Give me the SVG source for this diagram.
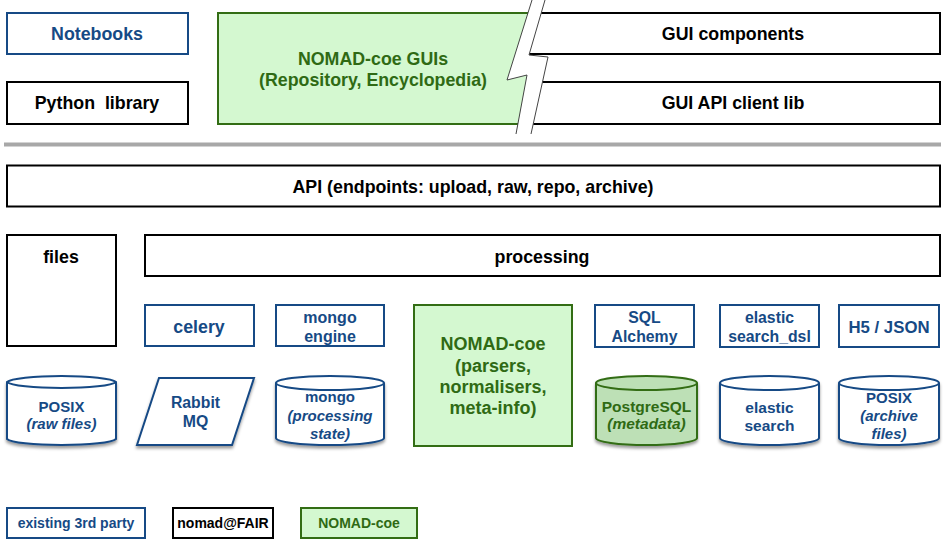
<svg xmlns="http://www.w3.org/2000/svg" width="945" height="539" viewBox="0 0 945 539">
<style>
text{font-family:"Liberation Sans",Arial,sans-serif;font-weight:bold;text-anchor:middle}
.b{fill:#fff;stroke:#164a85;stroke-width:2}
.k{fill:#fff;stroke:#000;stroke-width:2}
.g{fill:#d4f8d0;stroke:#336d14;stroke-width:2}
.gs{fill:none;stroke:#336d14;stroke-width:2}
.ks{fill:none;stroke:#000;stroke-width:2}
.tb{fill:#164a85}
.tk{fill:#000}
.tg{fill:#2f6a14}
.jag{fill:none;stroke:#444;stroke-width:1}
.rim{fill:none;stroke-width:2}
.i{font-style:italic}
.L{font-size:17.8px}
</style>
<defs>
<filter id="sh" x="-10%" y="-10%" width="120%" height="130%">
<feDropShadow dx="0" dy="2.5" stdDeviation="1.5" flood-color="#000" flood-opacity="0.4"/>
</filter>
</defs>
<rect width="945" height="539" fill="#fff"/>

<g id="notebooks"><rect class="b" x="7" y="13" width="181" height="41"/><text class="tb L" x="97" y="40">Notebooks</text></g>
<g id="python-library"><rect class="k" x="7" y="82" width="181" height="42"/><text class="tk L" x="97" y="109" xml:space="preserve">Python  library</text></g>
<g id="nomad-guis">
<polygon points="218,13 528,13 507,80 527,75 518,124 218,124" fill="#d4f8d0"/>
<path class="gs" d="M528,13 H218 V124 H518"/>
<text class="tg L" x="373" y="65">NOMAD-coe GUIs</text>
<text class="tg L" x="373" y="86">(Repository, Encyclopedia)</text>
</g>
<g id="gui-components">
<polygon points="541.2,13 940,13 940,54 529.3,54" fill="#fff"/>
<path class="ks" d="M541.2,13 H940 V54 H529.3"/>
<text class="tk L" x="733" y="40">GUI components</text>
</g>
<g id="gui-api-client">
<polygon points="542.5,82 940,82 940,124 533.2,124" fill="#fff"/>
<path class="ks" d="M542.5,82 H940 V124 H533.2"/>
<text class="tk L" x="733" y="109">GUI API client lib</text>
</g>
<g id="break">
<polyline class="jag" points="532,0 507,80 527,75 516,134"/>
<polyline class="jag" points="545,0 529,55 548,57 531,134"/>
</g>
<rect id="separator" x="4" y="142.5" width="937" height="4" fill="#a8a8a8"/>

<g id="api"><rect class="k" x="7" y="165.5" width="933" height="41"/><text class="tk L" x="473" y="193">API (endpoints: upload, raw, repo, archive)</text></g>
<g id="files"><rect class="k" x="7" y="235" width="109" height="111"/><text class="tk L" x="61" y="263">files</text></g>
<g id="processing"><rect class="k" x="145" y="235" width="795" height="41"/><text class="tk L" x="542" y="263">processing</text></g>

<g id="celery"><rect class="b" x="145" y="305" width="109" height="41"/><text class="tb L" x="199" y="333">celery</text></g>
<g id="mongo-engine"><rect class="b" x="276" y="305" width="108" height="41"/><text class="tb" x="330" y="323" font-size="16">mongo</text><text class="tb" x="330" y="342" font-size="16">engine</text></g>
<g id="nomad-coe"><rect class="g" x="414" y="305" width="158" height="141"/>
<text class="tg" x="493" y="350" font-size="18">NOMAD-coe</text>
<text class="tg" x="493" y="372" font-size="18">(parsers,</text>
<text class="tg" x="493" y="393" font-size="18">normalisers,</text>
<text class="tg" x="493" y="414" font-size="18">meta-info)</text>
</g>
<g id="sql-alchemy"><rect class="b" x="595" y="305" width="99" height="42"/><text class="tb" x="644.5" y="323" font-size="15.8">SQL</text><text class="tb" x="644.5" y="342" font-size="15.8">Alchemy</text></g>
<g id="elastic-dsl"><rect class="b" x="720" y="305" width="99" height="42"/><text class="tb" x="769.5" y="323" font-size="15.8">elastic</text><text class="tb" x="769.5" y="342" font-size="15.8">search_dsl</text></g>
<g id="h5-json"><rect class="b" x="839" y="305" width="100" height="42"/><text class="tb" x="889" y="333" font-size="16.8">H5 / JSON</text></g>

<g id="posix-raw">
<path class="b" filter="url(#sh)" d="M7,382 A55,7 0 0 1 116,382 V439 A55,7 0 0 1 7,439 Z"/>
<path class="rim" stroke="#164a85" d="M7,382 A55,7 0 0 0 116,382"/>
<text class="tb" x="61.5" y="412" font-size="15">POSIX</text>
<text class="tb i" x="61.5" y="429" font-size="15">(raw files)</text>
</g>
<g id="rabbitmq">
<polygon class="b" filter="url(#sh)" points="159,378 254,378 232,445 137,445"/>
<text class="tb" x="195.5" y="408" font-size="15.8">Rabbit</text>
<text class="tb" x="195.5" y="427" font-size="15.8">MQ</text>
</g>
<g id="mongo">
<path class="b" filter="url(#sh)" d="M276,383 A54,7 0 0 1 384,383 V438 A54,7 0 0 1 276,438 Z"/>
<path class="rim" stroke="#164a85" d="M276,383 A54,7 0 0 0 384,383"/>
<text class="tb" x="330" y="402" font-size="15">mongo</text>
<text class="tb i" x="330" y="421" font-size="15">(processing</text>
<text class="tb i" x="330" y="439" font-size="15">state)</text>
</g>
<g id="postgresql">
<path filter="url(#sh)" d="M596,383 A50.5,7 0 0 1 697,383 V438 A50.5,7 0 0 1 596,438 Z" fill="#bde0b6" stroke="#336d14" stroke-width="2"/>
<path class="rim" stroke="#336d14" d="M596,383 A50.5,7 0 0 0 697,383"/>
<text class="tg" x="646.5" y="412" font-size="15.5">PostgreSQL</text>
<text class="tg i" x="646.5" y="429" font-size="15.5">(metadata)</text>
</g>
<g id="elasticsearch">
<path class="b" filter="url(#sh)" d="M720,383 A49.5,7 0 0 1 819,383 V438 A49.5,7 0 0 1 720,438 Z"/>
<path class="rim" stroke="#164a85" d="M720,383 A49.5,7 0 0 0 819,383"/>
<text class="tb" x="769.5" y="413" font-size="15.5">elastic</text>
<text class="tb" x="769.5" y="431" font-size="15.5">search</text>
</g>
<g id="posix-archive">
<path class="b" filter="url(#sh)" d="M839,383 A50,7 0 0 1 939,383 V438 A50,7 0 0 1 839,438 Z"/>
<path class="rim" stroke="#164a85" d="M839,383 A50,7 0 0 0 939,383"/>
<text class="tb" x="889" y="403" font-size="15">POSIX</text>
<text class="tb i" x="889" y="421" font-size="15">(archive</text>
<text class="tb i" x="889" y="439" font-size="15">files)</text>
</g>

<g id="connectors"></g>

<g id="legend-3rd-party"><rect class="b" x="7" y="508" width="138" height="30"/><text class="tb" x="76" y="528" font-size="14">existing 3rd party</text></g>
<g id="legend-nomad-fair"><rect class="k" x="173" y="508" width="100" height="30"/><text class="tk" x="223" y="528" font-size="14">nomad@FAIR</text></g>
<g id="legend-nomad-coe"><rect class="g" x="301" y="508" width="116" height="30"/><text class="tg" x="359" y="528" font-size="14">NOMAD-coe</text></g>
</svg>
